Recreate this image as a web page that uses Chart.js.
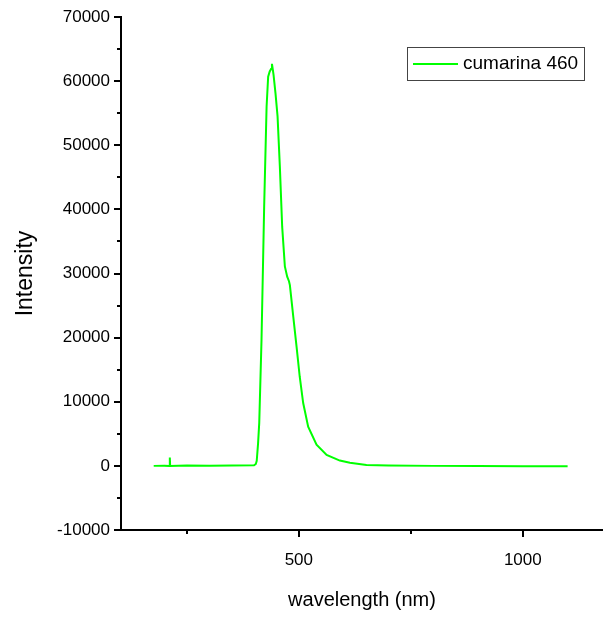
<!DOCTYPE html>
<html>
<head>
<meta charset="utf-8">
<script src="https://cdn.jsdelivr.net/npm/chart.js@4.4.0/dist/chart.umd.min.js"></script>
<style>
  body { margin: 0; background: #fff; }
  #wrap { width: 603px; height: 620px; }
</style>
</head>
<body>
<div id="wrap"><canvas id="spectrumChart" width="603" height="620"></canvas></div>
<script>
// emission spectrum, values
const wavelength = [176, 200, 211.3, 212, 212.7, 250, 300, 350, 400, 404, 406, 409, 411.6, 416.7, 422.6, 428, 431.5, 435, 438, 440, 443.5, 448, 452.5, 457.6, 462.8, 468.8, 474, 478, 480, 481.5, 487.5, 494.9, 502, 509.7, 520.8, 539.5, 562, 591.5, 614, 651, 700, 800, 900, 1000, 1100];
const intensity = [0, 30, 0, 1300, 0, 50, 30, 50, 100, 300, 800, 3500, 6700, 19700, 40500, 56000, 60700, 61500, 61900, 62700, 61000, 58000, 54500, 46700, 37300, 31100, 29500, 28800, 28200, 27200, 23300, 18600, 13900, 9800, 6100, 3300, 1700, 830, 500, 150, 50, 0, 0, -50, -50];

const seriesLabel = "cumarina 460";
const yTicks = [-10000, 0, 10000, 20000, 30000, 40000, 50000, 60000, 70000];
const yMinor = [-5000, 5000, 15000, 25000, 35000, 45000, 55000, 65000];
const xTicks = [500, 1000];
const xMinor = [250, 750];

const fontFam = "'Liberation Sans', Arial, sans-serif";

// minor ticks + boxed legend like the Origin export
const extras = {
  id: "extras",
  afterDraw(chart) {
    const ctx = chart.ctx;
    const xs = chart.scales.x, ys = chart.scales.y;
    const area = chart.chartArea;
    ctx.save();
    ctx.strokeStyle = "#000";
    ctx.lineWidth = 2;
    yMinor.forEach(v => {
      const py = Math.round(ys.getPixelForValue(v));
      ctx.beginPath();
      ctx.moveTo(area.left - 4, py);
      ctx.lineTo(area.left, py);
      ctx.stroke();
    });
    xMinor.forEach(v => {
      const px = Math.round(xs.getPixelForValue(v));
      ctx.beginPath();
      ctx.moveTo(px, area.bottom);
      ctx.lineTo(px, area.bottom + 4);
      ctx.stroke();
    });

    // legend box
    ctx.lineWidth = 1;
    ctx.strokeStyle = "#444";
    ctx.strokeRect(407.5, 47.5, 177, 33);
    ctx.strokeStyle = "#00ff00";
    ctx.lineWidth = 2;
    ctx.beginPath();
    ctx.moveTo(413, 64);
    ctx.lineTo(458, 64);
    ctx.stroke();
    ctx.fillStyle = "#000";
    ctx.font = "19px " + fontFam;
    ctx.textBaseline = "middle";
    ctx.fillText(seriesLabel, 463, 64);
    ctx.restore();
  }
};

new Chart(document.getElementById("spectrumChart"), {
  type: "line",
  data: {
    datasets: [
      {
        label: seriesLabel,
        data: wavelength.map((w, i) => ({ x: w, y: intensity[i] })),
        borderColor: "#00ff00",
        borderWidth: 2,
        pointRadius: 0,
        tension: 0,
        fill: false,
      },
    ],
  },
  options: {
    responsive: false,
    animation: false,
    layout: { padding: { top: 17, right: 0, bottom: 0, left: 0 } },
    plugins: {
      legend: { display: false },
      tooltip: { enabled: false },
    },
    scales: {
      x: {
        type: "linear",
        min: 103,
        max: 1179,
        afterFit: (s) => { s.height = 90; },
        afterBuildTicks: (s) => { s.ticks = xTicks.map(v => ({ value: v })); },
        border: { color: "#000", width: 2 },
        grid: { drawOnChartArea: false, color: "#000", lineWidth: 2, tickLength: 7 },
        ticks: {
          color: "#000", padding: 13, maxRotation: 0,
          font: { size: 17, family: fontFam },
          callback: (v) => String(v),
        },
        title: {
          display: true,
          text: "wavelength (nm)",
          color: "#000",
          font: { size: 20, family: fontFam },
          padding: { top: 0, bottom: 8 },
        },
      },
      y: {
        min: -10000,
        max: 70000,
        afterFit: (s) => { s.width = 121; },
        afterBuildTicks: (s) => { s.ticks = yTicks.map(v => ({ value: v })); },
        border: { color: "#000", width: 2 },
        grid: { drawOnChartArea: false, color: "#000", lineWidth: 2, tickLength: 7 },
        ticks: {
          color: "#000", padding: 4,
          font: { size: 17, family: fontFam },
          callback: (v) => String(v),
        },
        title: {
          display: true,
          text: "Intensity",
          color: "#000",
          font: { size: 23, family: fontFam },
          padding: { top: 12, bottom: 0 },
        },
      },
    },
  },
  plugins: [extras],
});
</script>
</body>
</html>
